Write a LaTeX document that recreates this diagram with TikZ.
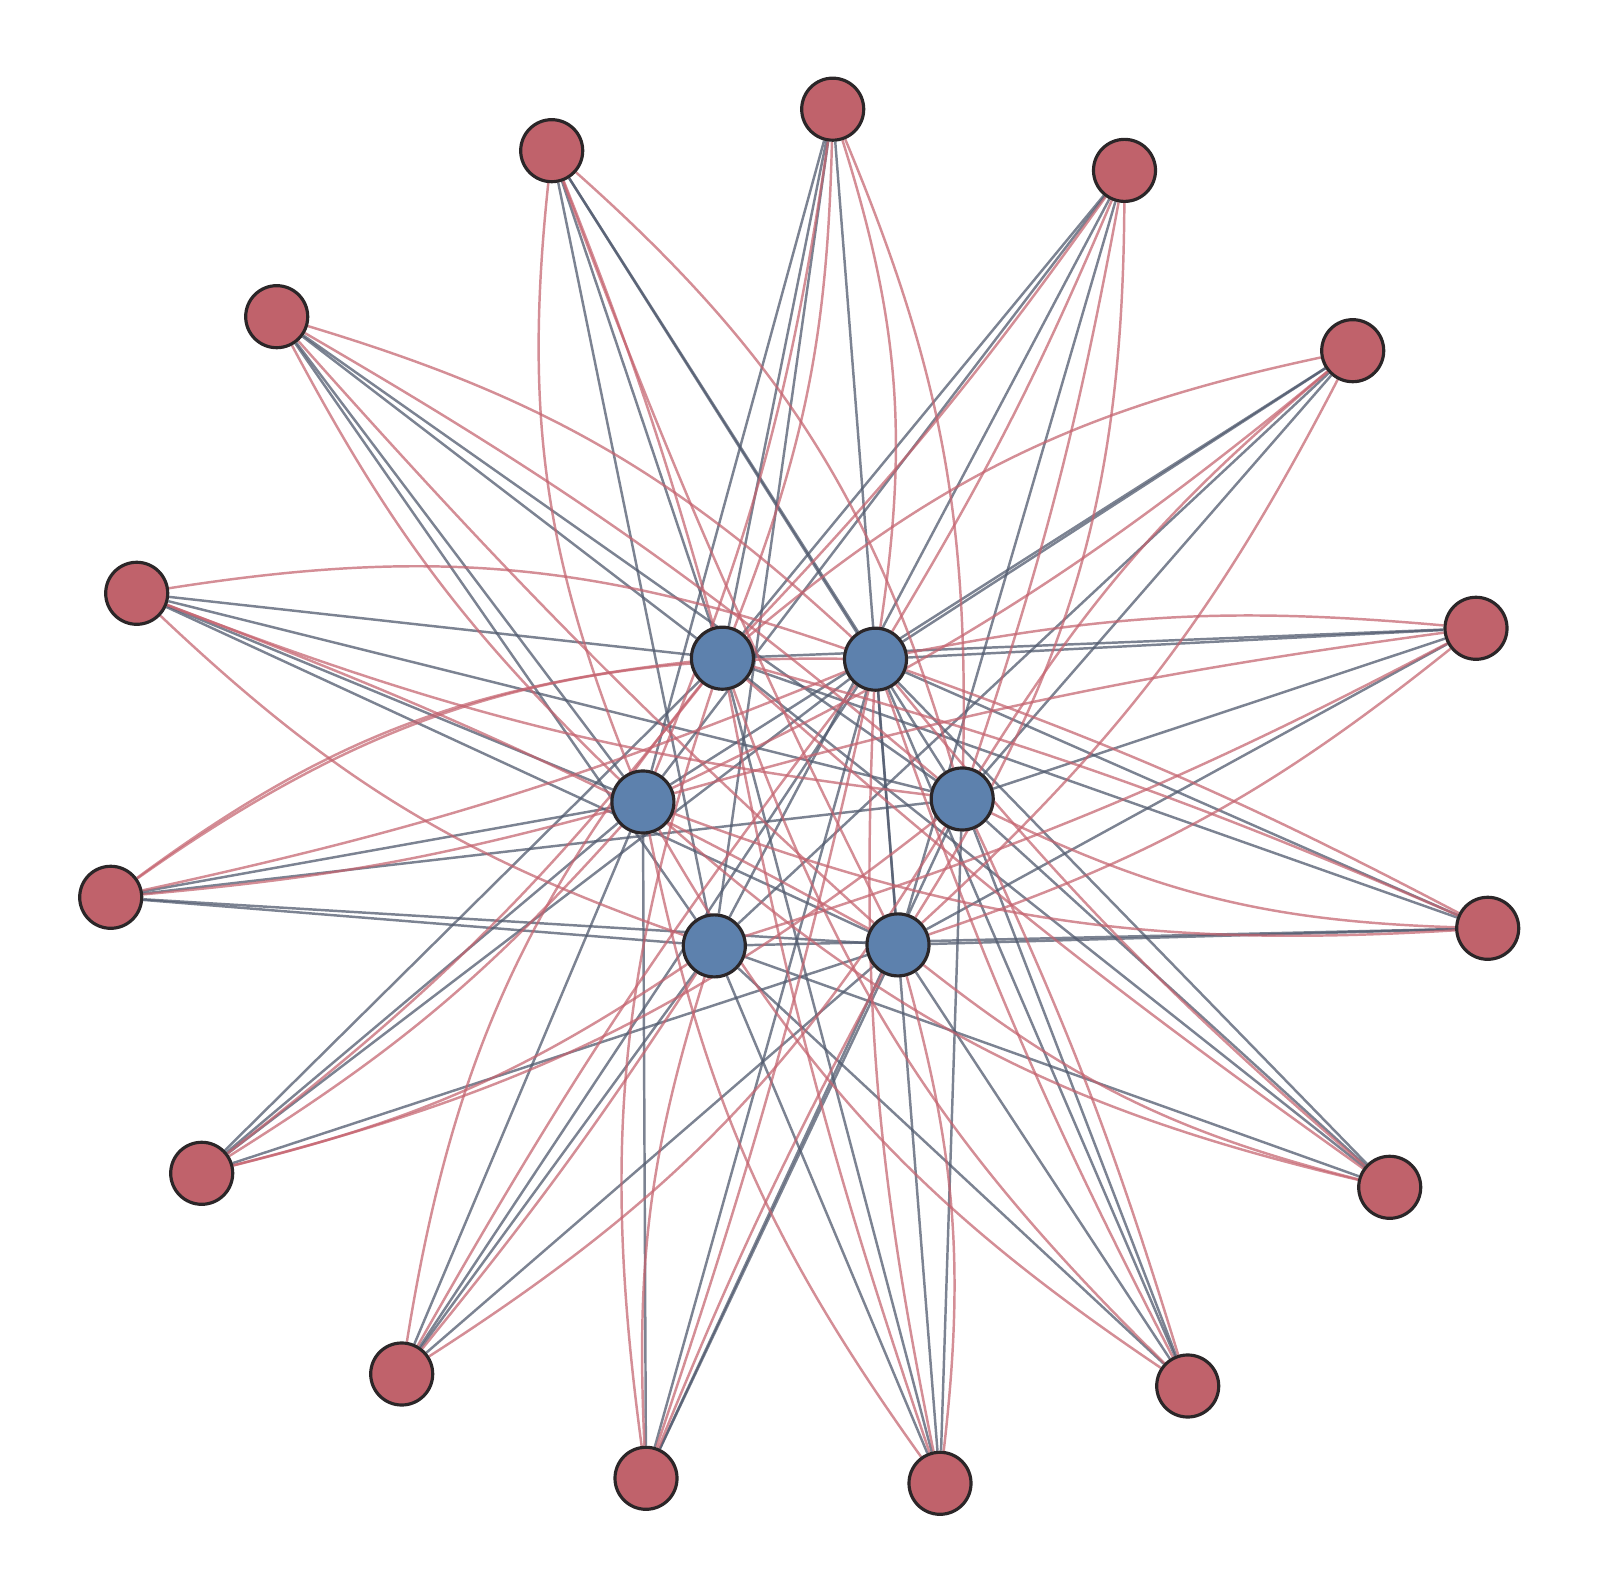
\documentclass[tikz,border=0pt]{standalone}
\usetikzlibrary{backgrounds}
\definecolor{rednode}{RGB}{192,98,107}
\definecolor{bluenode}{RGB}{93,129,173}
\definecolor{nodeline}{RGB}{43,38,40}
\definecolor{grayedge}{RGB}{80,90,110}
\definecolor{rededge}{RGB}{196,98,110}
\tikzset{
  outernode/.style={circle, fill=rednode, draw=nodeline, line width=0.9pt, minimum size=0.62cm, inner sep=0pt},
  innernode/.style={circle, fill=bluenode, draw=nodeline, line width=0.9pt, minimum size=0.62cm, inner sep=0pt},
  gedge/.style={draw=grayedge, draw opacity=0.75, line width=0.7pt},
  redge/.style={draw=rededge, draw opacity=0.72, line width=0.7pt}
}
\begin{document}
\begin{tikzpicture}[x=0.01cm,y=-0.01cm]
\useasboundingbox (0,0) rectangle (1600,1595);
% inner (blue) nodes
\node[innernode] (B1) at (722.4,658.2) {};
\node[innernode] (B2) at (875.5,659.2) {};
\node[innernode] (B3) at (642.9,802.0) {};
\node[innernode] (B4) at (962.2,799.0) {};
\node[innernode] (B5) at (714.3,945.9) {};
\node[innernode] (B6) at (898.0,944.9) {};
% outer (red) nodes
\node[outernode] (R1) at (832.7,109.2) {};
\node[outernode] (R2) at (1124.5,170.4) {};
\node[outernode] (R3) at (1352.7,350.7) {};
\node[outernode] (R4) at (1476.0,628.3) {};
\node[outernode] (R5) at (1487.7,928.3) {};
\node[outernode] (R6) at (1389.7,1187.3) {};
\node[outernode] (R7) at (1187.7,1386.0) {};
\node[outernode] (R8) at (940.0,1483.3) {};
\node[outernode] (R9) at (646.0,1478.3) {};
\node[outernode] (R10) at (401.7,1374.0) {};
\node[outernode] (R11) at (201.7,1173.3) {};
\node[outernode] (R12) at (110.7,897.3) {};
\node[outernode] (R13) at (136.7,593.3) {};
\node[outernode] (R14) at (276.7,316.7) {};
\node[outernode] (R15) at (551.7,150.7) {};
\begin{pgfonlayer}{background}
\foreach \a/\b in {R1/B1,R1/B3,R1/B5,R1/B6,
  R2/B1,R2/B3,R2/B5,R2/B6,
  R3/B2,R3/B3,R3/B4,R3/B5,
  R4/B1,R4/B2,R4/B4,R4/B6,
  R5/B1,R5/B2,R5/B5,R5/B6,
  R6/B1,R6/B2,R6/B4,R6/B5,
  R7/B2,R7/B4,R7/B5,R7/B6,
  R8/B1,R8/B2,R8/B4,R8/B5,
  R9/B2,R9/B3,R9/B4,R9/B6,
  R10/B2,R10/B3,R10/B5,R10/B6,
  R11/B1,R11/B2,R11/B3,R11/B6,
  R12/B3,R12/B4,R12/B5,R12/B6,
  R13/B1,R13/B3,R13/B4,R13/B6,
  R14/B1,R14/B3,R14/B4,R14/B5,
  R15/B1,R15/B2,R15/B4,R15/B5}
  \draw[gedge] (\a) -- (\b);
\foreach \a/\b/\t in {R1/B4/12,R1/B2/13,R1/B1/10,R1/B3/7,
  R2/B1/4,R2/B2/4,R2/B4/4,R2/B6/16,
  R3/B1/-14,R3/B6/10,R3/B3/7,R3/B4/-9,
  R4/B2/-8,R4/B3/-4,R4/B5/5,R4/B6/10,
  R5/B4/12,R5/B3/12,R5/B1/-4,R5/B2/-4,
  R6/B6/12,R6/B3/14,R6/B2/5,R6/B1/3,
  R7/B3/13,R7/B1/13,R7/B2/4,R7/B4/-4,
  R8/B3/12,R8/B1/4,R8/B2/7,R8/B6/-11,
  R9/B1/13,R9/B5/10,R9/B2/-3,R9/B6/3,
  R10/B1/15,R10/B4/-13,R10/B2/4,R10/B5/-3,
  R11/B5/-10,R11/B4/-12,R11/B3/-8,R11/B1/-7,
  R12/B1/15,R12/B2/18,R12/B2/-5,R12/B3/-5,
  R13/B2/14,R13/B4/-7,R13/B6/4,R13/B5/-12,
  R14/B2/13,R14/B4/5,R14/B6/-3,R14/B3/-9,
  R15/B3/-14,R15/B6/-3,R15/B1/3,R15/B4/16}
  \draw[redge] (\a) to[bend left=\t] (\b);
\end{pgfonlayer}
\end{tikzpicture}
\end{document}
